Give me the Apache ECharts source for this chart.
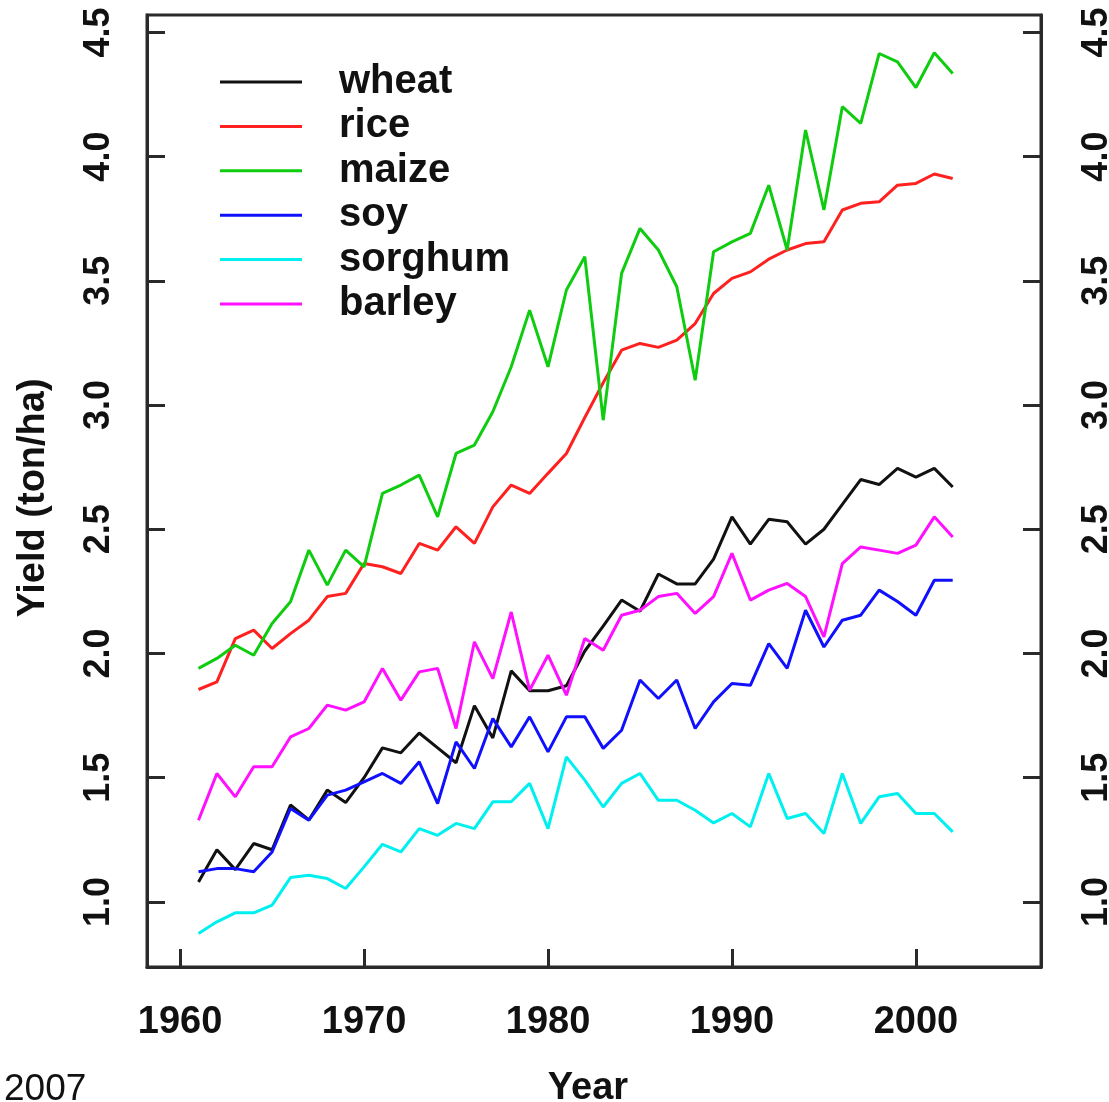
<!DOCTYPE html>
<html>
<head>
<meta charset="utf-8">
<script src="https://cdn.jsdelivr.net/npm/echarts@6/dist/echarts.min.js"></script>
<style>
html,body{margin:0;padding:0;background:#fff;}
#chart{width:1109px;height:1102px;}
</style>
</head>
<body>
<div id="chart"></div>
<script>
var years = [1961,1962,1963,1964,1965,1966,1967,1968,1969,1970,1971,1972,1973,1974,1975,1976,1977,1978,1979,1980,1981,1982,1983,1984,1985,1986,1987,1988,1989,1990,1991,1992,1993,1994,1995,1996,1997,1998,1999,2000,2001,2002];
var wheat = [1.08,1.21,1.13,1.235,1.21,1.39,1.33,1.45,1.40,1.50,1.62,1.60,1.68,1.62,1.56,1.79,1.66,1.93,1.85,1.85,1.87,2.01,2.11,2.215,2.17,2.32,2.28,2.28,2.38,2.55,2.44,2.54,2.53,2.44,2.50,2.60,2.70,2.68,2.745,2.71,2.745,2.67];
var rice = [1.855,1.886,2.06,2.094,2.02,2.08,2.134,2.229,2.242,2.362,2.349,2.322,2.443,2.416,2.51,2.443,2.59,2.678,2.644,2.725,2.805,2.95,3.09,3.221,3.248,3.232,3.261,3.328,3.449,3.51,3.536,3.587,3.624,3.65,3.657,3.785,3.812,3.818,3.885,3.892,3.93,3.912];
var maize = [1.94,1.98,2.033,1.993,2.121,2.208,2.416,2.275,2.416,2.349,2.644,2.678,2.718,2.55,2.805,2.839,2.973,3.154,3.382,3.154,3.463,3.597,2.939,3.53,3.711,3.624,3.476,3.10,3.617,3.657,3.691,3.885,3.624,4.107,3.785,4.201,4.134,4.415,4.381,4.278,4.418,4.335];
var soy = [1.121,1.134,1.134,1.121,1.201,1.376,1.329,1.43,1.45,1.483,1.517,1.477,1.564,1.396,1.644,1.537,1.738,1.624,1.745,1.604,1.745,1.745,1.618,1.691,1.893,1.819,1.893,1.698,1.805,1.879,1.872,2.04,1.94,2.174,2.026,2.134,2.154,2.255,2.209,2.154,2.295,2.295];
var sorghum = [0.873,0.92,0.956,0.956,0.987,1.098,1.107,1.094,1.054,1.141,1.232,1.201,1.295,1.268,1.316,1.295,1.403,1.403,1.477,1.295,1.584,1.49,1.382,1.477,1.517,1.409,1.409,1.369,1.318,1.356,1.302,1.517,1.336,1.356,1.275,1.517,1.316,1.423,1.436,1.356,1.356,1.282];
var barley = [1.329,1.517,1.423,1.544,1.544,1.664,1.698,1.792,1.772,1.805,1.94,1.812,1.926,1.94,1.698,2.047,1.899,2.167,1.852,1.993,1.832,2.06,2.013,2.154,2.174,2.229,2.242,2.161,2.229,2.403,2.215,2.255,2.282,2.229,2.067,2.362,2.429,2.416,2.403,2.436,2.55,2.469];

var seriesNames = ['wheat','rice','maize','soy','sorghum','barley'];
var seriesValues = [wheat, rice, maize, soy, sorghum, barley];
var seriesColors = ['#111111','#ff2020','#10cc10','#1010ff','#00f0f0','#ff10ff'];

var xTicks = [1960,1970,1980,1990,2000];
var yTicks = [1.0,1.5,2.0,2.5,3.0,3.5,4.0,4.5];

var boldFont = "'Liberation Sans', Arial, sans-serif";
var frameColor = '#2a2a2a';

function pairs(vals){
  return years.map(function(y,i){ return [y, vals[i]]; });
}

var chart = echarts.init(document.getElementById('chart'), null, {renderer:'canvas'});

function yAxisDef(pos, margin){
  return {
    type:'value', position:pos, min:0.738, max:4.57,
    axisLine:{show:true, onZero:false, lineStyle:{color:frameColor, width:3}},
    axisTick:{show:true, inside:true, length:18, lineStyle:{color:frameColor, width:3}, customValues:yTicks},
    axisLabel:{show:true, rotate:90, margin:margin, customValues:yTicks,
      formatter:function(v){return Number(v).toFixed(1);},
      fontFamily:boldFont, fontWeight:'bold', fontSize:36, color:'#111'},
    splitLine:{show:false}
  };
}

var left = yAxisDef('left', 30);
left.name = 'Yield (ton/ha)';
left.nameLocation = 'middle';
left.nameRotate = 90;
left.nameGap = 94;
left.nameTextStyle = {fontFamily:boldFont, fontWeight:'bold', fontSize:38, color:'#111', padding:[0,14,0,0]};
var right = yAxisDef('right', 38);

var option = {
  animation:false,
  backgroundColor:'#ffffff',
  grid:{left:147, right:68, top:15, bottom:135, containLabel:false, outerBoundsMode:'none',
        show:true, borderColor:frameColor, borderWidth:3, backgroundColor:'transparent'},
  legend:{
    orient:'vertical', left:220, top:62, itemGap:4.4, padding:0,
    icon:'rect', itemWidth:82, itemHeight:3,
    data:seriesNames,
    textStyle:{fontFamily:boldFont, fontWeight:'bold', fontSize:40, color:'#111', lineHeight:40, padding:[0,0,0,32]}
  },
  xAxis:{
    type:'value', min:1958.2, max:2006.8,
    name:'Year', nameLocation:'middle', nameGap:103,
    nameTextStyle:{fontFamily:boldFont, fontWeight:'bold', fontSize:38, color:'#111', padding:[0,12,0,0]},
    axisLine:{show:true, onZero:false, lineStyle:{color:frameColor, width:3}},
    axisTick:{show:true, inside:true, length:18, lineStyle:{color:frameColor, width:3}, customValues:xTicks},
    axisLabel:{show:true, margin:37, customValues:xTicks, formatter:function(v){return String(v);},
      fontFamily:boldFont, fontWeight:'bold', fontSize:38, color:'#111'},
    splitLine:{show:false}
  },
  yAxis:[left, right],
  graphic:[{
    type:'text', left:4, top:1071,
    style:{text:'2007', font:"37px 'Liberation Sans', Arial, sans-serif", fill:'#111'}
  }],
  series: seriesNames.map(function(n,i){
    return {
      name:n, type:'line', data:pairs(seriesValues[i]), yAxisIndex:0,
      showSymbol:false, symbol:'none', smooth:false,
      lineStyle:{color:seriesColors[i], width:3},
      itemStyle:{color:seriesColors[i]},
      z: 2 + i
    };
  })
};
chart.setOption(option);
</script>
</body>
</html>
